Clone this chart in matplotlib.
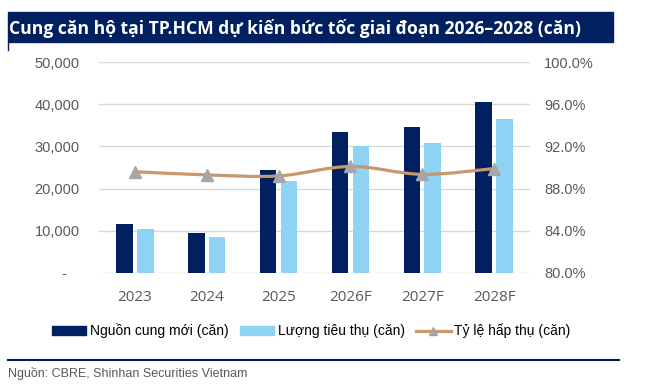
import numpy as np
import matplotlib
matplotlib.use("Agg")
import matplotlib.pyplot as plt
from matplotlib.path import Path
from matplotlib.patches import PathPatch, Rectangle, Patch
from matplotlib.lines import Line2D
from matplotlib.ticker import FuncFormatter

# ── Data ──────────────────────────────────────────────────────────────────────
years = ["2023", "2024", "2025", "2026F", "2027F", "2028F"]
supply = [11600, 9400, 24400, 33300, 34500, 40600]      # Nguồn cung mới
absorbed = [10400, 8450, 21800, 30000, 30800, 36600]    # Lượng tiêu thụ
absorption_rate = [89.6, 89.3, 89.2, 90.1, 89.35, 89.9]  # Tỷ lệ hấp thụ (%)

NAVY = "#002060"
LIGHT = "#8FD3F4"
TAN = "#C9976B"
GREY_MK = "#A6A6A6"
TXT = "#595959"

plt.rcParams["font.family"] = ["Liberation Sans", "DejaVu Sans"]

W, H = 646, 391
fig = plt.figure(figsize=(W / 100, H / 100), dpi=100)

# title bar
fig.patches.append(Rectangle((8 / W, 1 - 42 / H), 605 / W, 30 / H,
                             transform=fig.transFigure, color=NAVY, zorder=0))
fig.add_artist(Line2D([8 / W, 8 / W], [1 - 42 / H, 1 - 50 / H], color=NAVY, lw=1))
fig.text(9 / W, 1 - 29 / H, "Cung căn hộ tại TP.HCM dự kiến bức tốc giai đoạn 2026–2028 (căn)",
         color="white", fontsize=12.6, fontweight="bold", va="center", ha="left",
         family=["Open Sans", "DejaVu Sans"])

# ── Axes ──────────────────────────────────────────────────────────────────────
ax = fig.add_axes([99 / W, 1 - 273 / H, 431 / W, 211 / H])
x = np.arange(len(years))
bw = 0.23
ax.bar(x - 0.145, supply, bw, color=NAVY, zorder=3)
ax.bar(x + 0.145, absorbed, bw, color=LIGHT, zorder=3)

ax.set_ylim(0, 50000)
ax.set_xlim(-0.5, len(years) - 0.5)
ax.set_yticks(np.arange(0, 50001, 10000))
# Excel accounting style: zero shown as a dash with trailing space
ax.yaxis.set_major_formatter(FuncFormatter(lambda v, p: "-   " if v == 0 else f"{int(v):,}"))
ax.set_xticks(x)
ax.set_xticklabels(years, family=["Open Sans", "DejaVu Sans"], fontsize=11)
ax.grid(axis="y", color="#D9D9D9", lw=1, zorder=0)
ax.set_axisbelow(True)
for s in ax.spines.values():
    s.set_visible(False)
ax.tick_params(length=0, colors=TXT)
ax.tick_params(axis="y", pad=14, labelsize=10.5)
ax.tick_params(axis="x", pad=12)

ax2 = ax.twinx()
ax2.set_ylim(80, 100)
ax2.set_yticks(np.arange(80, 100.1, 4))
ax2.yaxis.set_major_formatter(FuncFormatter(lambda v, p: f"{v:.1f}%"))
for s in ax2.spines.values():
    s.set_visible(False)
ax2.tick_params(length=0, colors=TXT, labelsize=10.5, pad=10)

# smoothed line (Catmull-Rom style bezier through the data points)
pts = np.column_stack([x, absorption_rate]).astype(float)
verts = [tuple(pts[0])]
codes = [Path.MOVETO]
for i in range(len(pts) - 1):
    p0 = pts[i - 1] if i > 0 else pts[i]
    p1, p2 = pts[i], pts[i + 1]
    p3 = pts[i + 2] if i + 2 < len(pts) else pts[i + 1]
    c1 = p1 + (p2 - p0) / 6
    c2 = p2 - (p3 - p1) / 6
    verts += [tuple(c1), tuple(c2), tuple(p2)]
    codes += [Path.CURVE4] * 3
ax2.add_patch(PathPatch(Path(verts, codes), fill=False, edgecolor=TAN, lw=2.3,
                        capstyle="round", zorder=4))
ax2.plot(x, absorption_rate, ls="none", marker="^", ms=9, color=GREY_MK, zorder=5)

# ── Legend ────────────────────────────────────────────────────────────────────
handles = [
    Patch(color=NAVY, label="Nguồn cung mới (căn)"),
    Patch(color=LIGHT, label="Lượng tiêu thụ (căn)"),
    Line2D([], [], color=TAN, lw=2.3, marker="^", ms=6, mfc=GREY_MK, mec=GREY_MK,
           label="Tỷ lệ hấp thụ (căn)"),
]
fig.legend(handles=handles, loc="center", bbox_to_anchor=(311 / W, 1 - 331 / H),
           ncol=3, frameon=False, fontsize=10, handlelength=2.5, handleheight=0.58,
           handletextpad=0.25, columnspacing=0.8, labelcolor="black")

# source line
fig.add_artist(Line2D([8 / W, 619 / W], [1 - 360 / H, 1 - 360 / H], color=NAVY, lw=1.5))
fig.text(8 / W, 1 - 374 / H, "Nguồn: CBRE, Shinhan Securities Vietnam", fontsize=9,
         color=TXT, va="center", ha="left")

fig.savefig("out.png", dpi=100)
